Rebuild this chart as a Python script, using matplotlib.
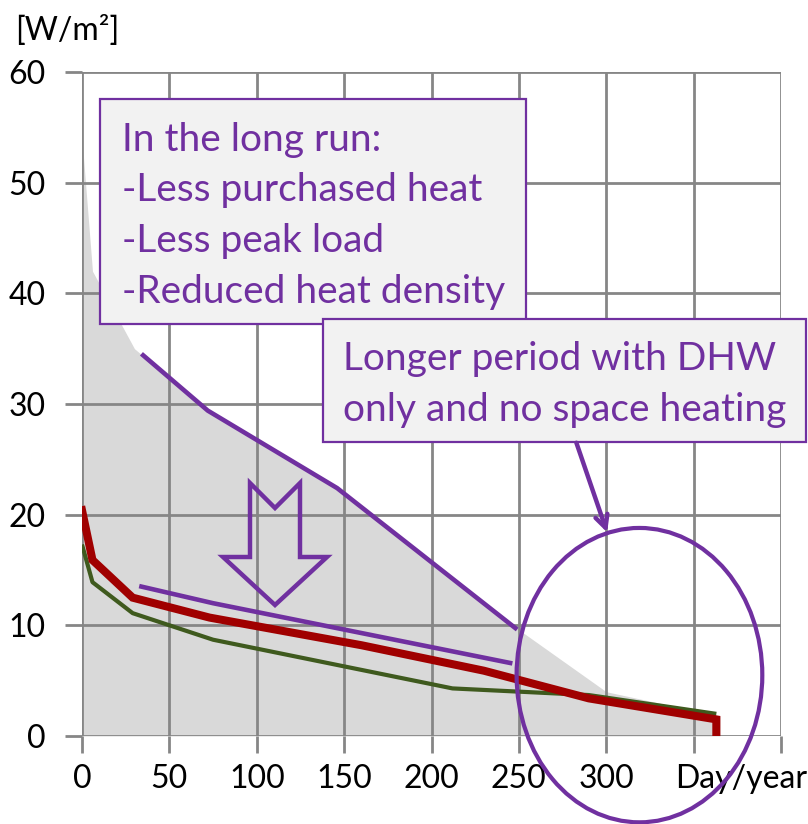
import matplotlib
matplotlib.use("Agg")
import matplotlib.pyplot as plt
from matplotlib.patches import Rectangle, Ellipse, Polygon

plt.rcParams['font.family'] = ['Lato', 'DejaVu Sans']

# ---- data ----
ref_days = [0, 0.5, 6, 30, 72, 146, 250, 300, 365]
ref_load = [55, 53, 42, 35, 29.4, 22.3, 9.6, 4.0, 1.8]

green_days = [0, 6, 29, 75, 212, 290, 363]
green_load = [17.3, 13.9, 11.1, 8.7, 4.3, 3.7, 2.0]

red_days = [0, 6, 29, 73, 160, 230, 290, 363, 363]
red_load = [20.4, 15.9, 12.5, 10.7, 8.2, 5.9, 3.4, 1.5, 0]

peak_days = [35, 72, 146, 248]
peak_load = [34.4, 29.4, 22.4, 9.75]

low_days = [34, 75, 245]
low_load = [13.5, 12.0, 6.6]

xticks = [0, 50, 100, 150, 200, 250, 300, 350, 400]
xticklabels = ['0', '50', '100', '150', '200', '250', '300', '', '']
yticks = [0, 10, 20, 30, 40, 50, 60]

box1_lines = ["In the long run:", "-Less purchased heat", "-Less peak load", "-Reduced heat density"]
box2_lines = ["Longer period with DHW", "only and no space heating"]

PURPLE = '#7030A0'
GRID = '#868686'

fig = plt.figure(figsize=(8.08, 8.24), dpi=100)
ax = fig.add_axes([82/808, 88/824, (781-82)/808, (736-72)/824])
ax.set_xlim(0, 400)
ax.set_ylim(0, 60)

ax.fill_between(ref_days, ref_load, 0, color='#D9D9D9', lw=0, zorder=1)
ax.set_xticks(xticks)
ax.set_xticklabels(xticklabels)
ax.set_yticks(yticks)
ax.grid(True, color=GRID, lw=2, zorder=2)
ax.set_axisbelow(False)
for s in ax.spines.values():
    s.set_visible(False)
ax.tick_params(axis='both', colors=GRID, labelcolor='black', labelsize=23,
               length=12, width=2)
ax.tick_params(axis='y', pad=14)
ax.tick_params(axis='x', pad=8)

ax.plot(green_days, green_load, color='#3F5A1E', lw=3, zorder=4, solid_capstyle='butt')
ax.plot(red_days, red_load, color='#A00000', lw=5.8, zorder=5, solid_joinstyle='miter')
ax.plot(peak_days, peak_load, color=PURPLE, lw=3.3, zorder=6)
ax.plot(low_days, low_load, color=PURPLE, lw=3.3, zorder=6)

# hollow down arrow (annotation shape)
arrow_px = [(250, 483), (275, 508), (300, 483), (300, 557), (327, 557),
            (275, 605), (223, 557), (250, 557)]
arrow_data = [((px - 82) / 1.7475, (736 - py) / 11.067) for px, py in arrow_px]
ax.add_patch(Polygon(arrow_data, closed=True, fill=False, edgecolor=PURPLE,
                     lw=3.2, zorder=6, joinstyle='miter'))

# text boxes
ax.add_patch(Rectangle((10.3, 37.2), 244.0, 20.4, facecolor='#F2F2F2',
                       edgecolor=PURPLE, lw=1.6, zorder=7, clip_on=False))
for i, line in enumerate(box1_lines):
    ax.text(22.9, 52.9 - i * 4.6, line, color=PURPLE, fontsize=28,
            va='baseline', ha='left', zorder=8)

ax.add_patch(Rectangle((137.7, 26.6), 276.6, 11.1, facecolor='#F2F2F2',
                       edgecolor=PURPLE, lw=1.6, zorder=9, clip_on=False))
for i, line in enumerate(box2_lines):
    ax.text(149.1, 33.1 - i * 4.6, line, color=PURPLE, fontsize=28,
            va='baseline', ha='left', zorder=10)

# arrow from box 2 to ellipse
ax.annotate('', xy=(300.5, 18.4), xytext=(282.9, 26.5),
            arrowprops=dict(arrowstyle='->,head_length=0.9,head_width=0.45',
                            color=PURPLE, lw=3.2, shrinkA=0, shrinkB=0),
            zorder=10, annotation_clip=False)

ax.add_patch(Ellipse((319, 5.5), 140.6, 26.6, fill=False, edgecolor=PURPLE,
                     lw=3.0, zorder=11, clip_on=False))

fig.text(15/808, 1 - 40/824, '[W/m²]', fontsize=23, ha='left', va='baseline')
ax.text(675/808, 1 - 788/824, 'Day/year', transform=fig.transFigure,
        fontsize=23, ha='left', va='baseline', zorder=3)

fig.savefig('out.png', dpi=100)
